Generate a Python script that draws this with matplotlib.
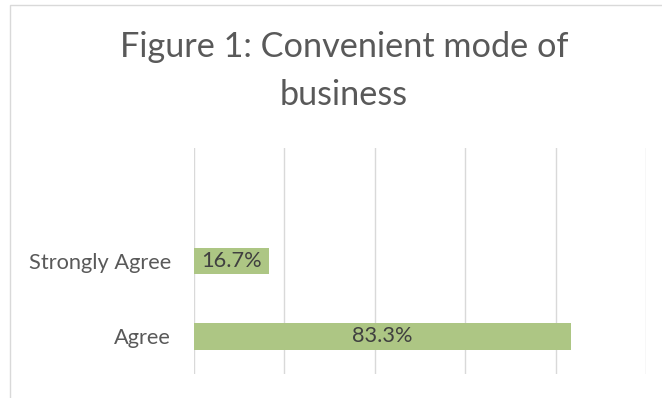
import matplotlib
matplotlib.use("Agg")
import matplotlib.pyplot as plt
from matplotlib.patches import Rectangle

categories = ["Agree", "Strongly Agree"]
values = [83.3, 16.7]
value_labels = ["83.3%", "16.7%"]
title_lines = ["Figure 1: Convenient mode of", "business"]

plt.rcParams["font.family"] = ["Lato", "DejaVu Sans"]

W, H = 662, 398
fig = plt.figure(figsize=(W / 100, H / 100), dpi=100)
fig.patch.set_facecolor("white")

# chart-area frame (light grey border on top and left)
fig.patches.append(Rectangle((10 / W, -0.5), 2.0, 1.5 - 5 / H,
                             transform=fig.transFigure, fill=False,
                             edgecolor="#D9D9D9", linewidth=1.0))

ax = fig.add_axes([194 / W, 1 - 374 / H, 452 / W, 226 / H])
ypos = list(range(len(categories)))
ax.barh(ypos, values, height=0.35, color="#ADC684", zorder=3)
ax.set_xlim(0, 100)
ax.set_ylim(-0.5, 2.5)
ax.set_xticks([0, 20, 40, 60, 80, 100])
ax.xaxis.grid(True, color="#D9D9D9", linewidth=1.0, zorder=0)
ax.set_xticklabels([])
ax.tick_params(axis="both", length=0)
ax.set_yticks(ypos)
ax.set_yticklabels(categories, fontsize=15.7, color="#595959")
ax.tick_params(axis="y", pad=16.5)
for s in ax.spines.values():
    s.set_visible(False)

for y, v, lab in zip(ypos, values, value_labels):
    ax.text(v / 2, y, lab, ha="center", va="center", fontsize=15.7,
            color="#404040", zorder=4)

for line, base in zip(title_lines, [57, 105]):
    fig.text(0.5 * (122 + 566) / W, 1 - base / H, line, ha="center",
             va="baseline", fontsize=24.7, color="#595959")

fig.savefig("out.png", dpi=100)
